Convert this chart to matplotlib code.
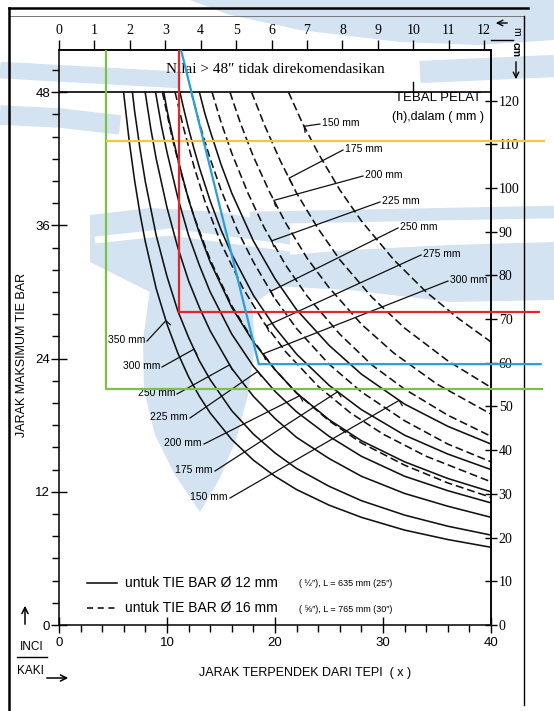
import numpy as np
import matplotlib
matplotlib.use("Agg")
import matplotlib.pyplot as plt
from matplotlib import font_manager

names = {f.name for f in font_manager.fontManager.ttflist}
NARROW = 'Liberation Sans Narrow' if 'Liberation Sans Narrow' in names else 'Liberation Sans'
SANS = [NARROW, 'DejaVu Sans']
SERIF = ['Liberation Serif', 'DejaVu Serif']

# tebal pelat (mm) per kurva
solid_h = [350, 300, 250, 225, 200, 175, 150]     # tie bar 12 mm
dashed_h = [300, 275, 250, 225, 200, 175, 150]    # tie bar 16 mm

# kurva: x = jarak dari tepi (kaki), y = jarak tie bar (inci)
solid_x = {
    350: [5.98, 6.5, 7, 7.5, 8, 9, 10, 11, 12, 13, 14, 16, 18, 20, 22, 25, 28, 32, 36, 40],
    300: [6.8, 7, 7.5, 8, 9, 10, 11, 12, 13, 14, 16, 18, 20, 22, 25, 28, 32, 36, 40],
    250: [7.98, 8.5, 9, 10, 11, 12, 13, 14, 16, 18, 20, 22, 25, 28, 32, 36, 40],
    225: [8.94, 9.5, 10, 11, 12, 13, 14, 16, 18, 20, 22, 25, 28, 32, 36, 40],
    200: [9.7, 10, 10.5, 11, 12, 13, 14, 16, 18, 20, 22, 25, 28, 32, 36, 40],
    175: [11.2, 11.5, 12, 12.5, 13, 14, 15, 16, 18, 20, 22, 25, 28, 32, 36, 40],
    150: [13.0, 13.5, 14, 15, 16, 18, 20, 22, 25, 28, 32, 36, 40],
}
solid_y = {
    350: [48, 43.6, 40.05, 37.05, 34.5, 30.3, 27.1, 24.5, 22.35, 20.6, 19.1, 16.7, 14.85, 13.4, 12.2, 10.8, 9.7, 8.55, 7.7, 7.0],
    300: [48, 46.3, 42.9, 39.9, 35.1, 31.4, 28.3, 25.9, 23.8, 22.1, 19.3, 17.2, 15.5, 14.1, 12.5, 11.2, 9.9, 8.9, 8.1],
    250: [48, 44.7, 42.0, 37.6, 34.0, 31.0, 28.6, 26.5, 23.1, 20.6, 18.6, 16.9, 15.0, 13.4, 11.85, 10.7, 9.7],
    225: [48, 44.9, 42.6, 38.5, 35.1, 32.4, 30.0, 26.2, 23.3, 21.05, 19.2, 17.0, 15.2, 13.4, 12.1, 11.0],
    200: [48, 46.4, 44.1, 42.0, 38.3, 35.3, 32.7, 28.6, 25.5, 23.0, 20.9, 18.5, 16.6, 14.7, 13.2, 12.0],
    175: [48, 46.7, 44.7, 42.9, 41.2, 38.2, 35.6, 33.4, 29.7, 26.8, 24.4, 21.6, 19.4, 17.1, 15.4, 14.0],
    150: [48, 46.1, 44.5, 41.5, 38.9, 34.6, 31.2, 28.4, 25.2, 22.6, 19.9, 17.9, 16.3],
}
dashed_x = {
    300: [9.58, 10.5, 11.5, 12.5, 14, 16, 18, 20, 22, 25, 28, 32, 36, 40],
    275: [10.75, 11.5, 12.5, 13.5, 15, 17, 19, 21, 24, 27, 30, 34, 40],
    250: [12.25, 13, 14, 15, 16.5, 18, 20, 22, 25, 28, 32, 36, 40],
    225: [14.17, 15, 16, 17.5, 19, 21, 23, 26, 29, 32, 36, 40],
    200: [15.83, 16.8, 18, 19.5, 21, 23, 25, 28, 31, 35, 40],
    175: [17.83, 19, 20.5, 22, 24, 26, 29, 32, 36, 40],
    150: [21.25, 22.5, 24, 26, 28, 31, 34, 37, 40],
}
dashed_y = {
    300: [48, 43.8, 40.0, 36.8, 32.9, 28.75, 25.6, 23.0, 20.9, 18.4, 16.4, 14.4, 12.8, 11.5],
    275: [48, 44.9, 41.3, 38.2, 34.4, 30.4, 27.2, 24.6, 21.5, 19.1, 17.2, 15.2, 12.9],
    250: [48, 45.2, 42.0, 39.2, 35.6, 32.7, 29.4, 26.7, 23.5, 21.0, 18.4, 16.3, 14.7],
    225: [48, 45.3, 42.5, 38.9, 35.8, 32.4, 29.6, 26.2, 23.4, 21.25, 18.9, 17.0],
    200: [48, 45.2, 42.2, 39.0, 36.2, 33.0, 30.4, 27.1, 24.5, 21.7, 19.0],
    175: [48, 45.1, 41.8, 38.9, 35.7, 32.9, 29.5, 26.75, 23.8, 21.4],
    150: [48, 45.3, 42.5, 39.2, 36.4, 32.9, 30.0, 27.6, 25.5],
}

# titik ujung garis penunjuk label (kaki, pada kurva)
solid_tag_x = {350: 9.9, 300: 12.5, 250: 15.8, 225: 18.4, 200: 22.3, 175: 25.8, 150: 31.5}
dashed_tag_x = {150: 22.7, 175: 21.3, 200: 19.9, 225: 19.7, 250: 19.6, 275: 19.2, 300: 18.9}

# garis bantu berwarna (kaki, inci)
green_x, green_y = 4.35, 21.26
yellow_y = 43.6
red_x, red_y = 11.1, 28.2
blue_top, blue_bot = (11.3, 51.8), (18.5, 23.5)
guide_end = 44.8

x_ticks = [0, 10, 20, 30, 40]
y_ticks = [0, 12, 24, 36, 48]
m_ticks = list(range(0, 13))
cm_ticks = list(range(0, 121, 10))

# ---------------------------------------------------------------- layout
W, H = 554, 711
AX_L, AX_R, AX_B, AX_T = 59, 491, 625, 50
X_MAX, Y_MAX = 40, 51.8


def px2d(px, py):
    return (px - AX_L) / (AX_R - AX_L) * X_MAX, (AX_B - py) / (AX_B - AX_T) * Y_MAX


def d2px(x, y):
    return AX_L + x / X_MAX * (AX_R - AX_L), AX_B - y / Y_MAX * (AX_B - AX_T)


fig = plt.figure(figsize=(W / 100, H / 100), dpi=100)
ov = fig.add_axes([0, 0, 1, 1], zorder=0)
ov.set_xlim(0, W)
ov.set_ylim(H, 0)
ov.axis('off')

# watermark samar
wm = '#d3e3f1'
ov.fill([190, 554, 554, 480, 400, 300, 230], [0, 0, 40, 45, 42, 30, 15], color=wm, lw=0)
ov.plot([0, 90, 180], [70, 75, 80], color=wm, lw=12, solid_capstyle='butt')
ov.plot([420, 554], [72, 66], color=wm, lw=16, solid_capstyle='butt')
ov.plot([0, 60, 120], [115, 118, 125], color=wm, lw=14, solid_capstyle='butt')
ov.plot([250, 400, 554], [218, 215, 212], color=wm, lw=9, solid_capstyle='butt')
ov.fill([250, 350, 450, 554, 554, 450, 350, 250], [258, 250, 245, 242, 300, 302, 290, 285], color=wm, lw=0)
ov.fill([90, 150, 220, 290, 290, 258, 150, 90], [215, 208, 212, 225, 280, 300, 292, 262], color=wm, lw=0)
ov.plot([95, 170, 290], [240, 232, 248], color='white', lw=5, solid_capstyle='butt')
ov.fill([150, 143, 144, 155, 175, 200, 220, 236, 248, 255, 252, 235, 200, 168],
        [290, 340, 390, 435, 475, 512, 478, 440, 395, 345, 300, 275, 268, 275], color=wm, lw=0)

# bingkai scan
ov.plot([9, 528], [8, 8], color='k', lw=1.8)
ov.plot([10, 524], [16, 16], color='#777777', lw=0.7)
ov.plot([9, 9], [8, 711], color='k', lw=1.8)
ov.plot([524, 524], [16, 705], color='k', lw=1.0)

ax = fig.add_axes([AX_L / W, 1 - AX_B / H, (AX_R - AX_L) / W, (AX_B - AX_T) / H], zorder=1)
ax.patch.set_alpha(0)
ax.set_xlim(0, X_MAX)
ax.set_ylim(0, Y_MAX)
for s in ax.spines.values():
    s.set_linewidth(1.1)

ax.set_xticks(x_ticks)
ax.set_xticks(np.arange(0, 41, 2), minor=True)
ax.set_yticks(y_ticks)
ax.set_yticks(np.arange(0, 51, 2), minor=True)
ax.tick_params(axis='both', which='major', direction='inout', length=11, width=1.0, labelsize=9)
ax.tick_params(axis='both', which='minor', direction='out', length=5, width=1.0)
ax.tick_params(axis='x', pad=3)
ax.tick_params(axis='y', pad=1)
for t in ax.get_xticklabels() + ax.get_yticklabels():
    t.set_family(SANS)
    t.set_fontsize(9.5)

top = ax.secondary_xaxis('top', functions=(lambda f: f * 0.3048, lambda m: m / 0.3048))
top.set_xticks(m_ticks)
top.tick_params(direction='out', length=7, width=1.0, pad=2)
top.spines['top'].set_linewidth(1.1)
for t in top.get_xticklabels():
    t.set_family(SERIF)
    t.set_fontsize(10)

right = ax.secondary_yaxis('right', functions=(lambda i: i * 2.54, lambda c: c / 2.54))
right.set_yticks(cm_ticks)
right.tick_params(direction='inout', length=9, width=1.0, pad=1)
right.spines['right'].set_linewidth(1.1)
for t in right.get_yticklabels():
    t.set_family(SERIF)
    t.set_fontsize(10)

# batas 48 inci
ax.axhline(48, color='k', lw=1.2)
ax.plot([32.8, 32.8], [48, 48.9], color='k', lw=1.0)
ax.text(20.0, 50.0, 'Nilai > 48\u2033 tidak direkomendasikan', ha='center', va='center',
        family=SERIF, fontsize=11)

# kurva
for h in solid_h:
    ax.plot(solid_x[h], solid_y[h], color='#111111', lw=1.15)
for h in dashed_h:
    ax.plot(dashed_x[h], dashed_y[h], color='#111111', lw=1.15, ls=(0, (5, 2.4)))


def tag(xs, ys, xe, lab_px, lab_side, text):
    ye = np.interp(xe, xs, ys)
    ex, ey = d2px(xe, ye)
    lx, ly = lab_px
    sx, sy = (lx - 2, ly + 1) if lab_side == 'left' else (lx + 2, ly + 1)
    d = np.array([ex - sx, ey - sy])
    d /= np.hypot(*d)
    p = np.array([-d[1], d[0]])
    if p[1] < 0:
        p = -p
    hx, hy = ex + 6 * p[0], ey + 6 * p[1]
    a, b = px2d(sx, sy)
    c, e = px2d(hx, hy)
    ax.plot([a, xe, c], [b, ye, e], color='#111111', lw=0.9, clip_on=False)
    tx, ty = px2d(lx, ly)
    ax.text(tx, ty, text, ha='left' if lab_side == 'left' else 'right', va='center',
            family=SANS, fontsize=7.5, clip_on=False)


solid_lab_px = {350: (145, 340), 300: (160, 366), 250: (175, 393), 225: (188, 417),
                200: (202, 443), 175: (213, 470), 150: (228, 497)}
dashed_lab_px = {150: (322, 123), 175: (345, 149), 200: (365, 175), 225: (382, 201),
                 250: (400, 227), 275: (423, 254), 300: (450, 280)}
for h in solid_h:
    tag(solid_x[h], solid_y[h], solid_tag_x[h], solid_lab_px[h], 'right', f'{h} mm')
for h in dashed_h:
    tag(dashed_x[h], dashed_y[h], dashed_tag_x[h], dashed_lab_px[h], 'left', f'{h} mm')

# garis bantu berwarna
gl = dict(lw=1.6, clip_on=False, zorder=5, solid_capstyle='butt')
ax.plot([green_x, green_x, guide_end], [Y_MAX, green_y, green_y], color='#7cc242', **gl)
ax.plot([green_x, guide_end + 0.2], [yellow_y, yellow_y], color='#f6c445', **gl)
ax.plot([red_x, red_x, guide_end - 0.3], [Y_MAX, red_y, red_y], color='#e3262e', **gl)
ax.plot([blue_top[0], blue_bot[0], guide_end - 0.1], [blue_top[1], blue_bot[1], blue_bot[1]],
        color='#2b9fd5', **gl)

# teks di luar sumbu
ov.text(438, 98, 'TEBAL PELAT', ha='center', va='center', family=SANS, fontsize=9.5)
ov.text(438, 117, '(h),dalam ( mm )', ha='center', va='center', family=SANS, fontsize=9)
ov.annotate('', xy=(493, 23), xytext=(510, 23),
            arrowprops=dict(arrowstyle='->', lw=1.0, color='k', mutation_scale=10))
ov.text(516, 31, 'm', rotation=-90, ha='center', va='center', family=SANS, fontsize=7.5)
ov.plot([491, 513], [40, 40], color='k', lw=1.0)
ov.text(516, 50, 'cm', rotation=-90, ha='center', va='center', family=SANS, fontsize=7.5,
        weight='bold')
ov.annotate('', xy=(516, 82), xytext=(516, 59),
            arrowprops=dict(arrowstyle='->', lw=1.0, color='k', mutation_scale=10))

ov.text(22, 355, 'JARAK MAKSIMUM TIE BAR', rotation=90, ha='center', va='center',
        family=SANS, fontsize=9)
ov.text(305, 673, 'JARAK TERPENDEK DARI TEPI  ( x )', ha='center', va='center',
        family=SANS, fontsize=9)

ov.plot([87, 117], [583, 583], color='k', lw=1.1)
ov.plot([87, 117], [608, 608], color='k', lw=1.1, ls=(0, (4, 3)))
ov.text(125, 583, 'untuk TIE BAR \u00d8 12 mm', ha='left', va='center', family=SANS, fontsize=10)
ov.text(299, 584, '( \u00bd\u2033), L = 635 mm (25\u2033)', ha='left', va='center',
        family=SANS, fontsize=6.5)
ov.text(125, 608, 'untuk TIE BAR \u00d8 16 mm', ha='left', va='center', family=SANS, fontsize=10)
ov.text(299, 609, '( \u215d\u2033), L = 765 mm (30\u2033)', ha='left', va='center',
        family=SANS, fontsize=6.5)

ov.annotate('', xy=(25, 603), xytext=(25, 627),
            arrowprops=dict(arrowstyle='->', lw=1.1, color='k', mutation_scale=11))
ov.text(32, 647, 'INCI', ha='center', va='center', family=SANS, fontsize=8.5)
ov.plot([17, 47], [657, 657], color='k', lw=1.0)
ov.text(30, 671, 'KAKI', ha='center', va='center', family=SANS, fontsize=8.5)
ov.annotate('', xy=(71, 678), xytext=(44, 678),
            arrowprops=dict(arrowstyle='->', lw=1.1, color='k', mutation_scale=11))

fig.savefig('out.png', dpi=100)
